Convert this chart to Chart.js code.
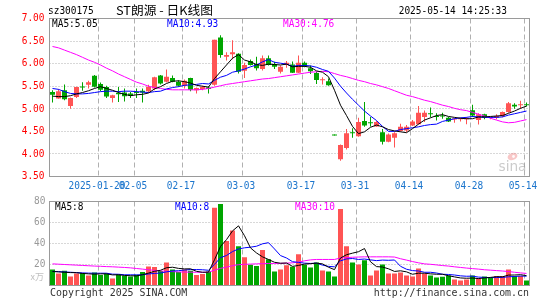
<!DOCTYPE html>
<html><head><meta charset="utf-8">
<script src="https://cdn.jsdelivr.net/npm/chart.js@4.4.1/dist/chart.umd.min.js"></script>
<style>html,body{margin:0;padding:0;background:#fff;overflow:hidden}canvas{display:block}</style>
</head><body>
<canvas id="c" width="545" height="300"></canvas>
<script>
// ---------------- data ----------------
const dates = ['2025-01-08','2025-01-09','2025-01-10','2025-01-13','2025-01-14','2025-01-15','2025-01-16','2025-01-17','2025-01-20','2025-01-21',
'2025-01-22','2025-01-23','2025-01-24','2025-01-27','2025-02-05','2025-02-06','2025-02-07','2025-02-10','2025-02-11','2025-02-12',
'2025-02-13','2025-02-14','2025-02-17','2025-02-18','2025-02-19','2025-02-20','2025-02-21','2025-02-24','2025-02-25','2025-02-26',
'2025-02-27','2025-02-28','2025-03-03','2025-03-04','2025-03-05','2025-03-06','2025-03-07','2025-03-10','2025-03-11','2025-03-12',
'2025-03-13','2025-03-14','2025-03-17','2025-03-18','2025-03-19','2025-03-20','2025-03-21','2025-03-25','2025-03-26','2025-03-27',
'2025-03-28','2025-03-31','2025-04-01','2025-04-02','2025-04-03','2025-04-07','2025-04-08','2025-04-09','2025-04-10','2025-04-11',
'2025-04-14','2025-04-15','2025-04-16','2025-04-17','2025-04-18','2025-04-21','2025-04-22','2025-04-23','2025-04-24','2025-04-25',
'2025-04-28','2025-04-29','2025-04-30','2025-05-06','2025-05-07','2025-05-08','2025-05-09','2025-05-12','2025-05-13','2025-05-14'];

const opens = [5.37,5.23,5.41,5.06,5.26,5.48,5.53,5.73,5.55,5.48, 5.24,5.35,5.36,5.34,5.36,5.40,5.39,5.45,5.74,5.60,
5.68,5.60,5.51,5.68,5.41,5.44,5.47,5.53,6.58,6.15, 6.21,6.22,5.84,6.06,5.99,5.88,6.12,5.99,5.82,5.97,
5.98,5.80,6.02,5.90,5.79,5.63,5.61,4.42,3.88,4.13, 4.47,4.39,4.73,4.69,4.61,4.48,4.27,4.36,4.51,4.52,
4.63,4.66,4.82,4.89,4.83,4.85,4.80,4.76,4.77,4.77, 4.97,4.75,4.88,4.80,4.80,4.84,4.93,5.09,5.08,5.09];
const closes = [5.31,5.39,5.21,5.24,5.48,5.47,5.59,5.49,5.42,5.27, 5.30,5.32,5.28,5.29,5.35,5.36,5.49,5.70,5.56,5.71,
5.60,5.51,5.62,5.42,5.46,5.48,5.44,6.53,6.19,6.19, 6.25,5.82,5.97,5.97,5.90,6.12,5.97,5.93,5.93,6.02,
5.80,6.02,5.93,5.83,5.64,5.65,5.52,4.41,4.20,4.46, 4.46,4.71,4.63,4.68,4.71,4.27,4.43,4.46,4.60,4.60,
4.72,4.91,4.91,4.88,4.82,4.83,4.72,4.78,4.78,4.79, 4.85,4.88,4.80,4.81,4.84,4.93,5.12,5.05,5.10,5.08];
const highs = [5.41,5.44,5.54,5.25,5.49,5.59,5.62,5.75,5.58,5.51, 5.31,5.48,5.45,5.37,5.45,5.45,5.53,5.71,5.75,5.87,
5.74,5.63,5.65,5.69,5.47,5.51,5.50,6.53,6.63,6.25, 6.52,6.23,6.02,6.09,6.15,6.18,6.18,6.04,5.96,6.06,
6.05,6.18,6.05,5.96,5.82,5.70,5.67,4.42,4.21,4.55, 4.57,4.80,5.15,4.82,4.73,4.55,4.45,4.48,4.67,4.64,
4.75,5.06,4.96,5.03,4.90,4.91,4.82,4.80,4.80,4.82, 5.09,4.90,4.89,4.82,4.88,4.94,5.15,5.12,5.18,5.14];
const lows = [5.14,5.22,5.19,5.00,5.24,5.40,5.45,5.47,5.39,5.24, 5.14,5.15,5.16,5.24,5.24,5.14,5.36,5.41,5.54,5.58,
5.59,5.49,5.45,5.39,5.34,5.41,5.34,5.51,6.13,6.07, 6.10,5.78,5.68,5.96,5.85,5.85,5.96,5.88,5.78,5.91,
5.79,5.79,5.92,5.77,5.55,5.54,5.51,4.41,3.85,4.10, 4.36,4.38,4.60,4.61,4.60,4.21,4.26,4.14,4.49,4.48,
4.62,4.65,4.71,4.81,4.74,4.78,4.71,4.69,4.72,4.66, 4.82,4.65,4.77,4.77,4.77,4.81,4.91,5.00,5.00,5.05];

const ma5 = [5.28,5.27,5.27,5.29,5.33,5.36,5.40,5.45,5.49,5.45, 5.41,5.36,5.32,5.29,5.31,5.32,5.35,5.44,5.49,5.56,
5.61,5.62,5.60,5.57,5.52,5.50,5.48,5.67,5.82,5.97, 6.12,6.20,6.08,6.04,5.98,5.96,5.99,5.98,5.97,5.99,
5.93,5.94,5.94,5.92,5.84,5.81,5.71,5.41,5.08,4.85, 4.61,4.45,4.49,4.59,4.64,4.60,4.54,4.51,4.49,4.47,
4.56,4.66,4.75,4.80,4.85,4.87,4.83,4.81,4.79,4.78, 4.78,4.82,4.82,4.83,4.84,4.85,4.90,4.95,5.01,5.06];
const ma10 = [5.45,5.43,5.38,5.34,5.33,5.33,5.34,5.36,5.38,5.39, 5.39,5.38,5.39,5.39,5.38,5.37,5.36,5.38,5.39,5.44,
5.47,5.49,5.52,5.53,5.54,5.56,5.55,5.63,5.70,5.74, 5.81,5.84,5.88,5.93,5.97,6.04,6.09,6.03,6.01,5.99,
5.94,5.96,5.96,5.95,5.92,5.87,5.83,5.68,5.50,5.35, 5.21,5.08,4.95,4.84,4.74,4.61,4.50,4.50,4.54,4.56,
4.58,4.60,4.63,4.65,4.66,4.72,4.75,4.78,4.80,4.81, 4.83,4.82,4.81,4.81,4.81,4.82,4.86,4.89,4.92,4.95];
const ma30 = [6.38,6.35,6.30,6.25,6.20,6.14,6.08,6.03,5.97,5.90, 5.84,5.77,5.71,5.65,5.59,5.55,5.50,5.47,5.45,5.43,
5.42,5.42,5.42,5.42,5.42,5.43,5.45,5.48,5.51,5.54, 5.56,5.58,5.60,5.62,5.64,5.66,5.67,5.69,5.71,5.73,
5.75,5.77,5.79,5.81,5.82,5.83,5.82,5.78,5.74,5.71, 5.67,5.63,5.60,5.56,5.53,5.49,5.45,5.40,5.35,5.30,
5.27,5.23,5.19,5.16,5.12,5.08,5.05,5.01,4.98,4.96, 4.92,4.88,4.84,4.79,4.75,4.71,4.69,4.70,4.73,4.76];

const volumes = [15.3,11.5,14,8.6,11.5,12,9.6,12.5,10,11.5, 6.7,10.5,9.3,8.6,10.2,12.8,18.2,17.6,13.7,22,
15.3,12.8,15.3,14,10,10.9,13.4,74,77.6,42.5, 52.4,37.4,27,19.8,18.5,33.9,25,13.4,15.3,19.2,
17.9,29.7,19.8,17.2,22,14.4,13.4,8.6,72.8,37.4, 22,20,24,9.6,14.4,20,11.5,11.5,12.5,9.6,
8.6,16.3,11.5,9.6,7.7,8.3,9.6,5.8,4.8,5.8, 9.6,7,8.6,7.7,9,9,15.3,9,9,4.8];
const volUp = [0,1,0,1,1,0,1,0,0,0, 1,0,0,0,0,0,1,1,0,1, 0,0,1,0,1,1,0,1,0,1, 1,0,1,0,0,1,0,0,1,1,
0,1,0,0,0,1,0,0,1,1, 0,1,0,1,1,0,1,1,1,1, 1,1,1,0,0,0,0,1,1,1, 0,1,0,0,1,1,1,0,1,0];
const volMa5 = [13.3,13.0,12.6,12.3,12.2,11.5,11.1,10.8,11.1,11.1, 10.1,10.2,9.6,9.3,9.1,10.3,11.8,13.5,14.5,16.9,
17.4,16.3,15.8,15.9,13.5,12.6,12.7,24.5,37.2,43.7, 52.0,56.8,47.4,35.8,31.0,27.3,24.8,22.1,21.2,21.4,
18.2,19.1,20.4,20.8,21.3,20.6,17.4,15.1,26.2,29.3, 30.8,32.2,35.2,22.6,18.0,17.6,15.9,13.4,14.0,13.0,
10.7,11.7,11.7,11.1,10.7,10.7,9.3,8.2,7.2,6.9, 7.1,6.6,7.2,7.7,8.4,8.3,9.9,10.0,10.3,9.4];
const volMa10 = [13.5,13.2,12.9,12.6,12.3,12.0,11.8,11.7,11.7,11.7, 10.8,10.7,10.2,10.2,10.1,10.2,11.0,11.5,11.9,13.0,
13.8,14.1,14.7,15.2,15.2,15.0,14.5,20.1,26.5,28.6, 32.3,34.8,35.9,36.5,37.4,39.7,40.8,34.8,28.5,26.2,
22.7,22.0,21.3,21.0,21.3,19.4,18.2,17.8,23.5,25.3, 25.7,24.8,25.2,24.4,23.7,24.2,24.0,24.3,18.3,15.5,
14.2,13.8,12.6,12.6,11.9,10.7,10.5,10.0,9.2,8.8, 8.9,8.0,7.7,7.5,7.6,7.7,8.3,8.6,9.0,8.9];
const volMa30 = [20.6,20.3,20.0,19.7,19.4,19.1,18.8,18.5,18.3,18.0, 17.8,17.5,17.2,16.8,16.2,15.6,15.0,14.4,13.9,13.5,
13.2,12.9,12.8,12.7,12.6,12.6,12.7,14.6,16.3,17.5, 18.9,19.8,20.2,20.4,20.6,20.8,21.0,21.0,21.1,21.3,
21.6,22.3,23.5,24.4,24.8,24.8,24.8,24.8,26.2,26.6, 26.9,27.1,27.3,27.3,27.3,27.3,27.3,27.1,25.5,24.2,
22.8,21.6,20.6,20.2,19.6,19.0,18.5,17.8,17.2,16.6, 16.1,15.6,15.0,14.6,14.2,13.8,13.3,12.6,12.0,11.5];

const priceTicks = [7.00,6.50,6.00,5.50,5.00,4.50,4.00,3.50];
const volTicks = [80,60,40,20];
const tickDates = ['2025-01-20','2025-02-05','2025-02-17','2025-03-03','2025-03-17','2025-03-31','2025-04-14','2025-04-28','2025-05-14'];
const tickLabels = ['2025-01-20','02-05','02-17','03-03','03-17','03-31','04-14','04-28','05-14'];
const symbol = 'sz300175';
const title = 'ST朗源 - 日K线图';
const stamp = '2025-05-14 14:25:33';
const priceLegend = ['MA5:5.05','MA10:4.93','MA30:4.76'];
const volLegend = ['MA5:8','MA10:8','MA30:10'];
const volUnit = 'x万';
const copyright = 'Copyright 2025 SINA.COM';
const url = 'http://finance.sina.com.cn';
const watermark = 'sina';

// ---------------- layout / style ----------------
const P = {left:49.5, right:529.5, pTop:18.5, pBot:176.5, vTop:201.5, vBot:285.5, W:545, H:300};
const RED = '#ff5454', GREEN = '#00a500';
const MA_COL = ['#000000','#0000ff','#ff00ff'];
const MONO = "'DejaVu Sans Mono', monospace";

const pxPerPrice = (P.pBot - P.pTop) / (priceTicks[0] - priceTicks[priceTicks.length-1]);
const yMin = priceTicks[0] - (P.vBot - P.pTop) / pxPerPrice;
const pxPerVol = (P.vBot - P.vTop) / volTicks[0];
const vMax = (P.vBot - P.pTop) / pxPerVol;

const bodyCol = closes.map((c,i)=> c > opens[i] ? RED : GREEN);
const volCol = volUp.map(u => u ? RED : GREEN);
const tickIdx = tickDates.map(d => dates.indexOf(d));

// draw text; charW = per-char width target, or fitW = total width target
function txt(ctx, s, x, y, color, align, size, charW, family, fitW){
  ctx.save();
  ctx.font = size + 'px ' + (family || MONO);
  ctx.fillStyle = color;
  ctx.textBaseline = 'middle';
  ctx.textAlign = 'left';
  const m = ctx.measureText(s).width;
  let sx = 1;
  if (charW) sx = (charW * s.length) / m;
  if (fitW) sx = fitW / m;
  const w = m * sx;
  const x0 = align === 'right' ? x - w : (align === 'center' ? x - w/2 : x);
  ctx.translate(x0, y);
  ctx.scale(sx, 1);
  ctx.fillText(s, 0, 0);
  ctx.restore();
}
function seg(ctx,x1,y1,x2,y2){ctx.beginPath();ctx.moveTo(x1,y1);ctx.lineTo(x2,y2);ctx.stroke();}

const deco = {
  id:'deco',
  beforeDraw(chart){
    const ctx = chart.ctx; ctx.save(); ctx.fillStyle='#fff'; ctx.fillRect(0,0,chart.width,chart.height); ctx.restore();
  },
  beforeDatasetsDraw(chart){
    const ctx = chart.ctx, xs = chart.scales.x, y = chart.scales.y, yv = chart.scales.yv;
    const L = chart.chartArea.left, R = chart.chartArea.right;
    const pT = y.getPixelForValue(priceTicks[0]), pB = y.getPixelForValue(priceTicks[priceTicks.length-1]);
    const vT = yv.getPixelForValue(volTicks[0]), vB = yv.getPixelForValue(0);
    ctx.save();
    ctx.strokeStyle = '#b0b0b0'; ctx.lineWidth = 1;
    ctx.setLineDash([1,2]);
    priceTicks.slice(1,-1).forEach(v=>{const yy=Math.round(y.getPixelForValue(v)-0.5)+0.5; seg(ctx,L,yy,R,yy);});
    volTicks.slice(1).forEach(v=>{const yy=Math.round(yv.getPixelForValue(v)-0.5)+0.5; seg(ctx,L,yy,R,yy);});
    ctx.setLineDash([5,3]);
    tickIdx.forEach(i=>{const xx = xs.getPixelForValue(i) - 2; seg(ctx,xx,pT,xx,pB); seg(ctx,xx,vT,xx,vB);});
    ctx.setLineDash([]);
    // sina watermark (logo eye + word)
    ctx.fillStyle = 'rgba(240,130,130,0.45)';
    ctx.beginPath(); ctx.ellipse(R-17, pB-20, 5, 3.5, -0.3, 0, Math.PI*2); ctx.fill();
    ctx.fillStyle = 'rgba(255,255,255,0.9)';
    ctx.beginPath(); ctx.arc(R-16, pB-20, 1.4, 0, Math.PI*2); ctx.fill();
    ctx.restore();
    txt(ctx, watermark, R-3, pB-9, 'rgba(160,160,160,0.55)', 'right', 14, null, "'DejaVu Sans', sans-serif", 28);
  },
  afterDatasetsDraw(chart){
    const ctx = chart.ctx, y = chart.scales.y, yv = chart.scales.yv;
    const L = chart.chartArea.left, R = chart.chartArea.right;
    const pT = y.getPixelForValue(priceTicks[0]), pB = y.getPixelForValue(priceTicks[priceTicks.length-1]);
    const vT = yv.getPixelForValue(volTicks[0]), vB = yv.getPixelForValue(0);
    ctx.save();
    ctx.strokeStyle = '#9a9a9a'; ctx.lineWidth = 1;
    ctx.strokeRect(L, pT, R-L, pB-pT);
    ctx.strokeRect(L, vT, R-L, vB-vT);
    ctx.restore();
  },
  afterDraw(chart){
    const ctx = chart.ctx, xs = chart.scales.x, y = chart.scales.y, yv = chart.scales.yv;
    const CW = 5.7;
    txt(ctx, symbol, 48, 11, '#000', 'left', 10.5, CW);
    txt(ctx, title, 116, 10, '#000', 'left', 12, null, "'Noto Sans CJK SC', sans-serif", 97);
    txt(ctx, stamp, 507, 11.5, '#000', 'right', 10.5, CW);
    priceTicks.forEach(v=>txt(ctx, v.toFixed(2), 44.5, y.getPixelForValue(v), '#ff0000', 'right', 10.5, CW));
    volTicks.forEach(v=>txt(ctx, String(v), 45.5, yv.getPixelForValue(v), '#999999', 'right', 10.5, CW));
    const ly = y.getPixelForValue(priceTicks[0]) + 5.5;
    [52,167,283].forEach((x,k)=>txt(ctx, priceLegend[k], x, ly, MA_COL[k], 'left', 10.5, CW));
    const vy = yv.getPixelForValue(volTicks[0]) + 5.5;
    [55,175,295].forEach((x,k)=>txt(ctx, volLegend[k], x, vy, MA_COL[k], 'left', 10.5, CW));
    tickIdx.forEach((i,k)=>txt(ctx, tickLabels[k], xs.getPixelForValue(i)-3.5, 186, '#1a74cc', 'center', 10.5, CW));
    txt(ctx, volUnit, 44, 277, '#c0c0c0', 'right', 9, null, "'Noto Sans CJK SC', sans-serif");
    txt(ctx, copyright, 50, 293, '#333', 'left', 10, 5.97);
    txt(ctx, url, 529, 293, '#333', 'right', 10, 5.97);
  }
};

const lineDs = (data, k, axis) => ({type:'line', data, yAxisID:axis, borderColor:MA_COL[k], borderWidth:1,
  pointRadius:0, tension:0, fill:false, order:0});

new Chart(document.getElementById('c'), {
  type:'bar',
  data:{
    labels: dates,
    datasets:[
      lineDs(ma5,0,'y'), lineDs(ma10,1,'y'), lineDs(ma30,2,'y'),
      lineDs(volMa5,0,'yv'), lineDs(volMa10,1,'yv'), lineDs(volMa30,2,'yv'),
      {type:'bar', data: opens.map((o,i)=>[o, closes[i]]), yAxisID:'y', backgroundColor: bodyCol,
        barThickness:5, grouped:false, minBarLength:1, borderWidth:0, inflateAmount:0, order:1},
      {type:'bar', data: lows.map((l,i)=>[l, highs[i]]), yAxisID:'y', backgroundColor: bodyCol,
        barThickness:1, grouped:false, minBarLength:1, borderWidth:0, inflateAmount:0, order:2},
      {type:'bar', data: volumes, yAxisID:'yv', backgroundColor: volCol,
        barThickness:5, grouped:false, borderWidth:0, inflateAmount:0, order:2}
    ]
  },
  options:{
    responsive:false, animation:false, events:[],
    layout:{padding:{left:P.left, right:P.W-P.right, top:P.pTop, bottom:P.H-P.vBot}},
    plugins:{legend:{display:false}, tooltip:{enabled:false}},
    scales:{
      x:{type:'category', display:false, offset:true, grid:{display:false}},
      y:{type:'linear', display:false, min:yMin, max:priceTicks[0]},
      yv:{type:'linear', display:false, min:0, max:vMax}
    }
  },
  plugins:[deco]
});
</script>
</body></html>
